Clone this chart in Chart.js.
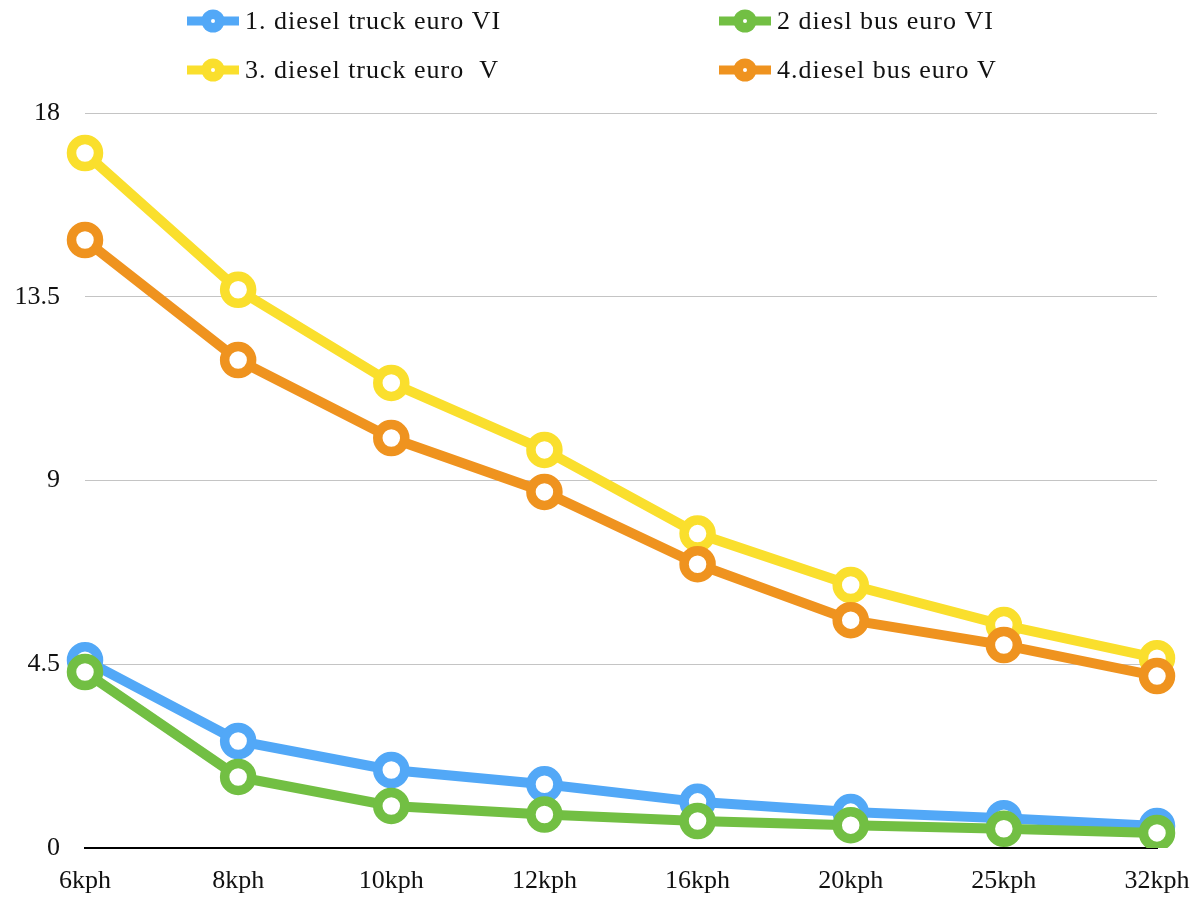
<!DOCTYPE html>
<html>
<head>
<meta charset="utf-8">
<script src="https://cdn.jsdelivr.net/npm/chart.js@4.4.1/dist/chart.umd.min.js"></script>
<style>
  html, body { margin: 0; padding: 0; background: #fff; }
  #wrap { width: 1201px; height: 898px; }
</style>
</head>
<body>
<div id="wrap"><canvas id="chart" width="1201" height="898"></canvas></div>
<script>
// ---- data ----
const speeds = ['6kph', '8kph', '10kph', '12kph', '16kph', '20kph', '25kph', '32kph'];
const truckEuro6 = [4.6, 2.62, 1.91, 1.56, 1.13, 0.88, 0.73, 0.54];
const busEuro6 = [4.31, 1.74, 1.03, 0.82, 0.66, 0.56, 0.47, 0.37];
const truckEuro5 = [17.02, 13.67, 11.39, 9.75, 7.7, 6.44, 5.46, 4.65];
const busEuro5 = [14.89, 11.95, 10.04, 8.72, 6.95, 5.58, 4.97, 4.21];
const seriesNames = ['1. diesel truck euro VI', '2 diesl bus euro VI', '3. diesel truck euro  V', '4.diesel bus euro V'];
const yTicks = [0, 4.5, 9, 13.5, 18];

const FONT = "'Liberation Serif', 'Times New Roman', serif";
const colors = ['#52a8f7', '#72bf43', '#fadf2d', '#ef931f'];

function makeSeries(i, values) {
  return {
    label: seriesNames[i],
    data: values,
    order: -i, // later series sit on top, like the original
    borderColor: colors[i],
    backgroundColor: colors[i],
    borderWidth: 10,
    pointRadius: 13.5,
    pointHoverRadius: 13.5,
    pointBorderWidth: 9.5,
    pointBackgroundColor: '#ffffff',
    pointBorderColor: colors[i],
    tension: 0
  };
}

// =====================
// Legend drawn by hand (2 columns x 2 rows)
// =====================
const legendPlugin = {
  id: 'gridLegend',
  afterDraw(chart) {
    const ctx = chart.ctx;
    const cols = [187, 719];
    const rows = [21, 70];
    ctx.save();
    chart.data.datasets.forEach((ds, i) => {
      const x = cols[i % 2];
      const y = rows[Math.floor(i / 2)];
      ctx.strokeStyle = ds.borderColor;
      ctx.lineWidth = 9;
      ctx.beginPath();
      ctx.moveTo(x, y);
      ctx.lineTo(x + 52, y);
      ctx.stroke();
      ctx.fillStyle = ds.borderColor;
      ctx.beginPath();
      ctx.arc(x + 26, y, 11.5, 0, Math.PI * 2);
      ctx.fill();
      ctx.fillStyle = '#fff';
      ctx.beginPath();
      ctx.arc(x + 26, y, 2, 0, Math.PI * 2);
      ctx.fill();
      ctx.fillStyle = '#111';
      ctx.font = '26px ' + FONT;
      ctx.letterSpacing = '1px';
      ctx.textBaseline = 'middle';
      ctx.textAlign = 'left';
      ctx.fillText(ds.label, x + 58, y + 1);
    });
    ctx.restore();
  }
};

new Chart(document.getElementById('chart'), {
  type: 'line',
  data: {
    labels: speeds,
    datasets: [
      makeSeries(0, truckEuro6),
      makeSeries(1, busEuro6),
      makeSeries(2, truckEuro5),
      makeSeries(3, busEuro5)
    ]
  },
  options: {
    responsive: false,
    animation: false,
    layout: { padding: { top: 113, right: 44, bottom: 0, left: 0 } },
    plugins: {
      legend: { display: false },
      tooltip: { enabled: false }
    },
    scales: {
      x: {
        offset: false,
        grid: { display: false, drawTicks: false },
        border: { display: true, color: '#000', width: 2 },
        ticks: { color: '#111', font: { family: FONT, size: 26 }, padding: 18, maxRotation: 0, autoSkip: false },
        afterFit(scale) {
          scale.height = 50;
          // let the last label hang past the plot edge instead of shrinking it
          scale.paddingLeft = 0;
          scale.paddingRight = 0;
        }
      },
      y: {
        min: 0,
        max: 18,
        grid: { color: '#c4c4c4', lineWidth: 1, drawTicks: false },
        border: { display: false },
        afterBuildTicks(scale) { scale.ticks = yTicks.map(v => ({ value: v })); },
        ticks: { color: '#111', font: { family: FONT, size: 26 }, padding: 25 },
        afterFit(scale) { scale.width = 85; }
      }
    }
  },
  plugins: [legendPlugin]
});
</script>
</body>
</html>
